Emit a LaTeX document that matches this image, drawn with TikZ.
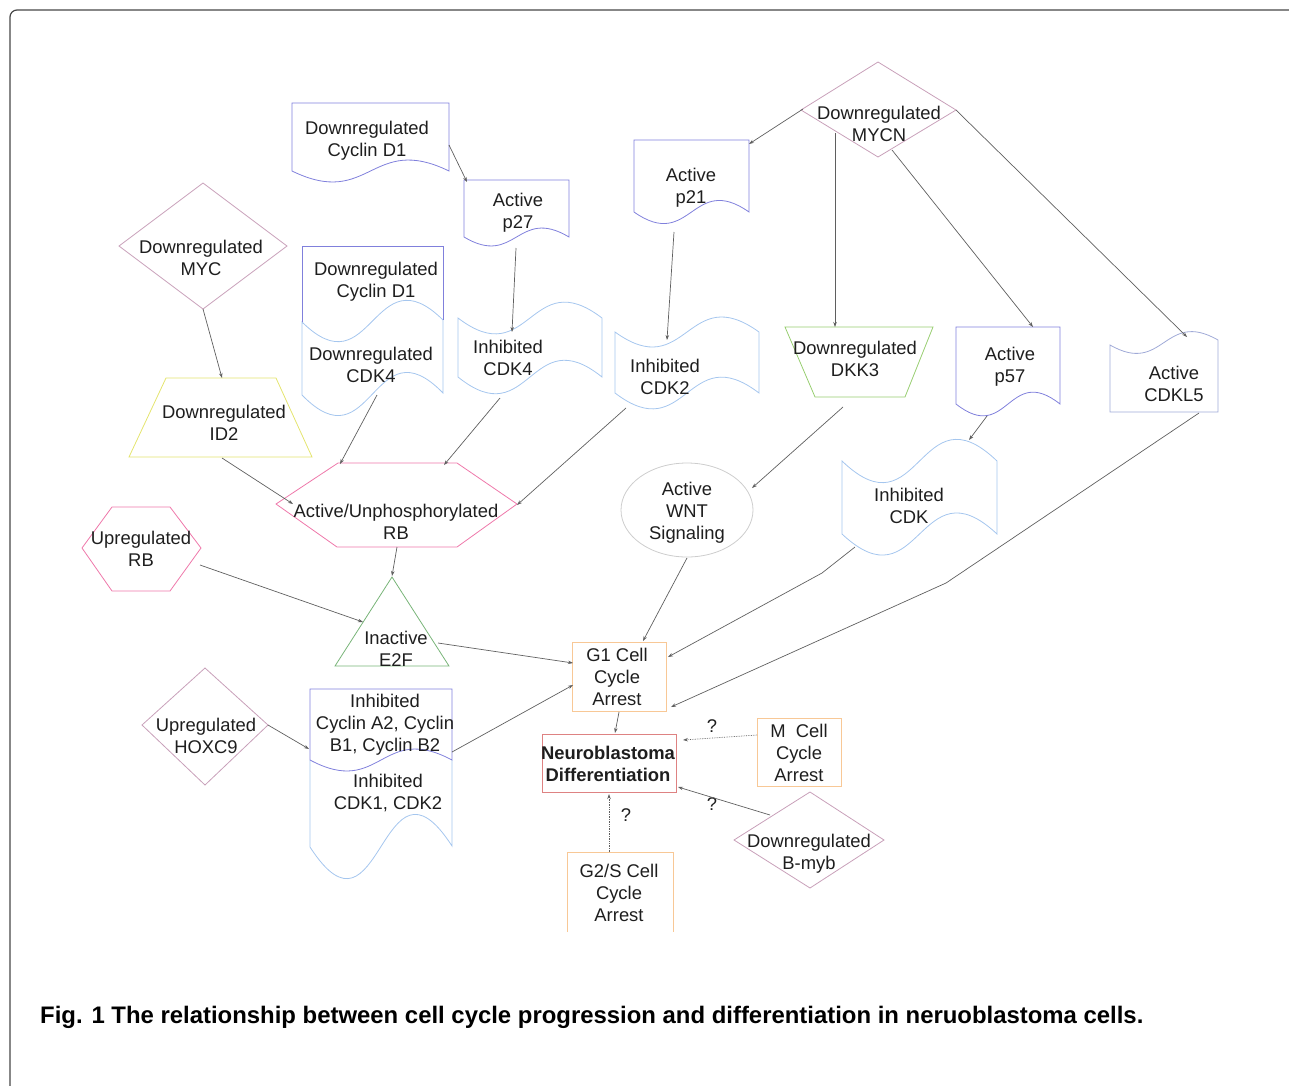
\documentclass[tikz,border=0pt]{standalone}
\usepackage{fontspec}
\setmainfont{Liberation Sans}
\usetikzlibrary{arrows.meta}

\definecolor{docblue}{RGB}{128,128,220}
\definecolor{tapeblue}{RGB}{165,198,238}
\definecolor{cdklblue}{RGB}{160,170,215}
\definecolor{mauve}{RGB}{200,160,185}
\definecolor{hexpink}{RGB}{238,120,170}
\definecolor{trapyellow}{RGB}{228,228,110}
\definecolor{trapgreen}{RGB}{150,205,110}
\definecolor{trigreen}{RGB}{120,180,120}
\definecolor{boxorange}{RGB}{248,200,150}
\definecolor{boxred}{RGB}{222,130,130}
\definecolor{ovalgray}{RGB}{205,205,205}
\definecolor{linkgray}{RGB}{95,95,95}
\definecolor{framegray}{RGB}{70,70,70}
\definecolor{inkgray}{RGB}{30,30,30}

\tikzset{
  txt/.style={align=center,inner sep=0pt,yshift=-1.5pt,text=inkgray,font=\fontsize{18.4}{22}\selectfont},
  outline/.style={line width=0.8pt},
  link/.style={draw=linkgray,line width=0.7pt,-{Stealth[length=5pt,width=3.5pt]}},
  maybe/.style={link,densely dotted},
}

\begin{document}
\begin{tikzpicture}[x=1pt,y=-1pt]
\useasboundingbox (0,0) rectangle (1289,1085);

% frame
\draw[framegray,line width=1.2pt,rounded corners=7pt] (10,1095) -- (10,10) -- (1300,10);

% documents
\draw[docblue,outline] (292,103) -- (449,103) -- (449,171) .. controls +(-78,-38) and +(78,38) .. (292,171) -- cycle;
\draw[docblue,outline] (464,180) -- (569,180) -- (569,237) .. controls +(-52,-31) and +(52,31) .. (464,237) -- cycle;
\draw[docblue,outline] (634,140) -- (749,140) -- (749,212) .. controls +(-57,-40) and +(57,40) .. (634,212) -- cycle;
\draw[docblue,outline] (956,327) -- (1060,327) -- (1060,404) .. controls +(-52,-41) and +(52,41) .. (956,404) -- cycle;

% cyclin D1 over CDK4
\draw[tapeblue,outline] (302,322) .. controls +(70,69) and +(-70,-69) .. (443,320) -- (443,393) .. controls +(-70,-72) and +(70,72) .. (302,395) -- cycle;
\draw[docblue,outline] (302,322) -- (302,246) -- (443,246) -- (443,320);

% tapes
\draw[tapeblue,outline] (458,318) .. controls +(72,55) and +(-72,-55) .. (602,318) -- (602,377) .. controls +(-72,-58) and +(72,58) .. (458,377) -- cycle;
\draw[tapeblue,outline] (615,332) .. controls +(72,52) and +(-72,-52) .. (759,332) -- (759,393) .. controls +(-72,-55) and +(72,55) .. (615,393) -- cycle;
\draw[tapeblue,outline] (842,461) .. controls +(78,75) and +(-78,-75) .. (997,461) -- (997,534) .. controls +(-78,-73) and +(78,73) .. (842,534) -- cycle;
\draw[cdklblue,outline] (1110,345) .. controls +(54,31) and +(-54,-31) .. (1218,340) -- (1218,412) -- (1110,412) -- cycle;

% cyclin A2/B1/B2 over CDK1/CDK2
\draw[tapeblue,outline] (310,760) -- (310,847) .. controls +(71,110) and +(-71,-110) .. (452,846) -- (452,760);
\draw[docblue,outline] (310,760) -- (310,689) -- (452,689) -- (452,760) .. controls +(-71,-38) and +(71,38) .. (310,760);

% diamonds
\draw[mauve,outline] (878,62) -- (956,110) -- (878,157) -- (801,110) -- cycle;
\draw[mauve,outline] (203,183) -- (287,246) -- (203,309) -- (119,246) -- cycle;
\draw[mauve,outline] (205,668) -- (268,725) -- (205,785) -- (142,725) -- cycle;
\draw[mauve,outline] (810,792) -- (884,840) -- (810,888) -- (734,840) -- cycle;

% hexagons
\draw[hexpink,outline] (276,504) -- (338,463) -- (457,463) -- (517,504) -- (457,547) -- (337,547) -- cycle;
\draw[hexpink,outline] (82,548) -- (112,507) -- (170,507) -- (201,548) -- (170,591) -- (112,591) -- cycle;

% trapezoids and triangle
\draw[trapyellow,outline] (166,378) -- (276,378) -- (312,457) -- (129,457) -- cycle;
\draw[trapgreen,outline] (785,327) -- (933,327) -- (905,397) -- (815,397) -- cycle;
\draw[trigreen,outline] (392,577) -- (449,666) -- (335,666) -- cycle;

% oval and boxes
\draw[ovalgray,outline] (687,510) ellipse [x radius=66, y radius=47];
\draw[boxorange,outline] (572,642) rectangle (666,711);
\draw[boxorange,outline] (757,718) rectangle (841,786);
\draw[boxred,outline] (542,734) rectangle (676,792);
\draw[boxorange,outline] (567,932) -- (567,852) -- (673,852) -- (673,932);

% labels
\node[txt] (cycd1) at (367,139) {Downregulated\\Cyclin D1};
\node[txt] (p27) at (518,211) {Active\\p27};
\node[txt] (p21) at (691,186) {Active\\p21};
\node[txt] (mycn) at (879,122) {Downregulated\\MYCN};
\node[txt] (myc) at (201,256) {Downregulated\\MYC};
\node[txt] (cycd1b) at (376,280) {Downregulated\\Cyclin D1};
\node[txt] (cdk4) at (371,363) {Downregulated\\CDK4};
\node[txt] (icdk4) at (508,356) {Inhibited\\CDK4};
\node[txt] (icdk2) at (665,375) {Inhibited\\CDK2};
\node[txt] (dkk3) at (855,357) {Downregulated\\DKK3};
\node[txt] (p57) at (1010,365) {Active\\p57};
\node[txt] (cdkl5) at (1174,382) {Active\\CDKL5};
\node[txt] (id2) at (224,421) {Downregulated\\ID2};
\node[txt] (rb) at (396,520) {Active/Unphosphorylated\\RB};
\node[txt] (uprb) at (141,547) {Upregulated\\RB};
\node[txt] (wnt) at (687,511) {Active\\WNT\\Signaling};
\node[txt] (icdk) at (909,504) {Inhibited\\CDK};
\node[txt] (e2f) at (396,647) {Inactive\\E2F};
\node[txt] (g1) at (617,675) {G1 Cell\\Cycle\\Arrest};
\node[txt] (hoxc9) at (206,734) {Upregulated\\HOXC9};
\node[txt] (icyc) at (385,723) {Inhibited\\Cyclin A2, Cyclin\\B1, Cyclin B2};
\node[txt] (icdk12) at (388,791) {Inhibited\\CDK1, CDK2};
\node[txt,font=\fontsize{18.4}{22}\selectfont\bfseries] (neuro) at (608,762) {Neuroblastoma\\Differentiation};
\node[txt] (mcell) at (799,751) {M~~Cell\\Cycle\\Arrest};
\node[txt] (bmyb) at (809,852) {Downregulated\\B-myb};
\node[txt] (g2s) at (619,891) {G2/S Cell\\Cycle\\Arrest};
\node[txt] (q1) at (712,725) {?};
\node[txt] (q2) at (712,803) {?};
\node[txt] (q3) at (626,814) {?};

% connector ends
\coordinate (cycd1-o) at (449,145);  \coordinate (p27-i) at (467,182);
\coordinate (p27-o) at (516,248);    \coordinate (icdk4-i) at (512,332);
\coordinate (p21-o) at (674,232);    \coordinate (icdk2-i) at (667,340);
\coordinate (mycn-w) at (803,109);   \coordinate (p21-i) at (749,144);
\coordinate (mycn-sw) at (835,133);  \coordinate (dkk3-i) at (835,327);
\coordinate (mycn-s) at (892,150);   \coordinate (p57-i) at (1033,327);
\coordinate (mycn-e) at (956,110);   \coordinate (cdkl5-i) at (1187,337);
\coordinate (myc-o) at (203,309);    \coordinate (id2-i) at (222,378);
\coordinate (id2-o) at (222,458);    \coordinate (rb-i1) at (293,504);
\coordinate (cdk4-o) at (377,395);   \coordinate (rb-i2) at (340,464);
\coordinate (icdk4-o) at (500,398);  \coordinate (rb-i3) at (444,465);
\coordinate (icdk2-o) at (626,408);  \coordinate (rb-i4) at (517,505);
\coordinate (rb-o) at (397,547);     \coordinate (e2f-i1) at (392,576);
\coordinate (uprb-o) at (200,565);   \coordinate (e2f-i2) at (363,622);
\coordinate (e2f-o) at (438,643);    \coordinate (g1-i1) at (573,663);
\coordinate (dkk3-o) at (843,407);   \coordinate (wnt-i) at (752,488);
\coordinate (wnt-o) at (687,558);    \coordinate (g1-i2) at (643,641);
\coordinate (p57-o) at (987,416);    \coordinate (icdk-i) at (969,440);
\coordinate (icdk-o) at (855,547);   \coordinate (icdk-b) at (822,573);  \coordinate (g1-i3) at (668,657);
\coordinate (cdkl5-o) at (1199,413); \coordinate (cdkl5-b) at (946,583); \coordinate (g1-i4) at (671,707);
\coordinate (icyc-o) at (452,752);   \coordinate (g1-i5) at (573,685);
\coordinate (hoxc9-o) at (268,725);  \coordinate (icyc-i) at (309,749);
\coordinate (g1-o) at (619,712);     \coordinate (neuro-i1) at (615,733);
\coordinate (mcell-o) at (757,735);  \coordinate (neuro-i2) at (683,740);
\coordinate (bmyb-o) at (770,815);   \coordinate (neuro-i3) at (678,787);
\coordinate (g2s-o) at (609,852);    \coordinate (neuro-i4) at (609,794);

% connectors
\draw[link] (cycd1-o) -- (p27-i);
\draw[link] (p27-o) -- (icdk4-i);
\draw[link] (p21-o) -- (icdk2-i);
\draw[link] (mycn-w) -- (p21-i);
\draw[link] (mycn-sw) -- (dkk3-i);
\draw[link] (mycn-s) -- (p57-i);
\draw[link] (mycn-e) -- (cdkl5-i);
\draw[link] (myc-o) -- (id2-i);
\draw[link] (id2-o) -- (rb-i1);
\draw[link] (cdk4-o) -- (rb-i2);
\draw[link] (icdk4-o) -- (rb-i3);
\draw[link] (icdk2-o) -- (rb-i4);
\draw[link] (rb-o) -- (e2f-i1);
\draw[link] (uprb-o) -- (e2f-i2);
\draw[link] (e2f-o) -- (g1-i1);
\draw[link] (dkk3-o) -- (wnt-i);
\draw[link] (wnt-o) -- (g1-i2);
\draw[link] (p57-o) -- (icdk-i);
\draw[link] (icdk-o) -- (icdk-b) -- (g1-i3);
\draw[link] (cdkl5-o) -- (cdkl5-b) -- (g1-i4);
\draw[link] (icyc-o) -- (g1-i5);
\draw[link] (hoxc9-o) -- (icyc-i);
\draw[link] (g1-o) -- (neuro-i1);
\draw[maybe] (mcell-o) -- (neuro-i2);
\draw[link] (bmyb-o) -- (neuro-i3);
\draw[maybe] (g2s-o) -- (neuro-i4);

% caption
\node[anchor=base west,inner sep=0pt,font=\fontsize{23.9}{28}\selectfont\bfseries] (caption) at (40,1023)
  {Fig. 1 The relationship between cell cycle progression and differentiation in neruoblastoma cells.};
\end{tikzpicture}
\end{document}
